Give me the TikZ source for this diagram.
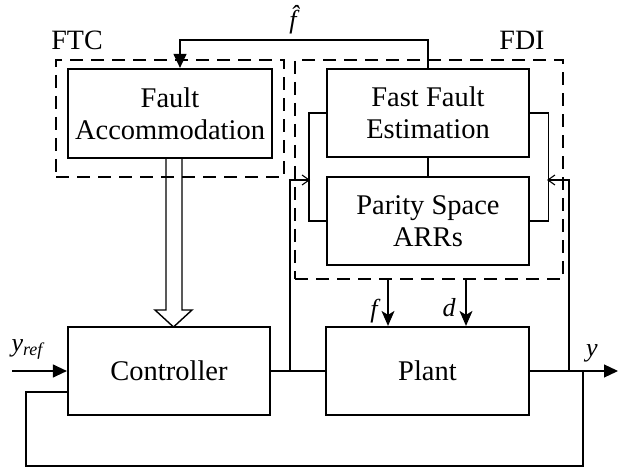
\documentclass[tikz,border=0pt]{standalone}
\usepackage{fontspec}
\setmainfont{Liberation Serif}
\usetikzlibrary{arrows.meta,calc}

\tikzset{
  blk/.style={draw, line width=2.2pt, inner sep=0pt, align=center,
              font=\fontsize{28.5}{32}\selectfont},
  grp/.style={draw, line width=2.2pt, dash pattern=on 13pt off 8pt, inner sep=0pt},
  wire/.style={line width=1.2pt},
  lbl/.style={font=\fontsize{28}{32}\selectfont, inner sep=0pt},
  sig/.style={font=\fontsize{26}{28}\selectfont\itshape, inner sep=0pt},
  tri/.style={-{Triangle[length=14pt,width=13pt]}},
  stl/.style={-{Stealth[length=15pt,width=13pt,inset=4pt]}},
  barb/.style={-{Straight Barb[length=7pt,width=10pt,line width=1.1pt]}}
}

\begin{document}
\begin{tikzpicture}[x=1pt,y=-1pt]
  \useasboundingbox (0,0) rectangle (618,470);

  % group frames
  \node[grp, minimum width=228pt, minimum height=117pt] (ftc) at (170,118.5) {};
  \node[grp, minimum width=268pt, minimum height=219pt] (fdi) at (429,169.5) {};
  \node[lbl] (ftclbl) at (77,40) {FTC};
  \node[lbl] (fdilbl) at (522,40) {FDI};

  % blocks
  \node[blk, minimum width=204pt, minimum height=89pt] (fa) at (170,113.5) {Fault\\Accommodation};
  \node[blk, minimum width=202pt, minimum height=88pt] (ffe) at (428,113) {Fast Fault\\Estimation};
  \node[blk, minimum width=202pt, minimum height=88pt] (psa) at (428,221) {Parity Space\\ARRs};
  \node[blk, minimum width=202pt, minimum height=88pt] (ctrl) at (169,371) {Controller};
  \node[blk, minimum width=203pt, minimum height=88pt] (plant) at (427.5,371) {Plant};

  % estimated fault back to the accommodation block
  \coordinate (fhat) at (180,40);
  \draw[wire, tri] (ffe.north) |- (fhat) -- (fhat |- fa.north);
  \node[sig] (fhatlbl) at (293,20) {\^{f}};

  % FDI internals
  \draw[wire] (ffe.south) -- (psa.north);
  \draw[wire] (ffe.west) -- ++(-17,0) |- (psa.west);
  \draw[wire] (ffe.east) -- ++(18,0) |- (psa.east);

  % main loop
  \coordinate (yin) at (12,371);
  \draw[wire, tri] (yin) -- (ctrl.west |- yin);
  \node[sig] (yref) at (27,349) {y\raisebox{-4pt}{\fontsize{18}{20}\selectfont ref}};
  \draw[wire] (ctrl.east) -- (plant.west);
  \coordinate (yout) at (618,371);
  \draw[wire, tri] (plant.east) -- (yout);
  \node[sig] (ylbl) at (592,353) {y};

  % measurements into the FDI
  \coordinate (ju) at (290,371);
  \coordinate (jy) at (569,371);
  \draw[wire, barb] (ju) -- (290,180) -- (310,180);
  \draw[wire, barb] (jy) -- (569,180) -- (547,180);

  % output feedback
  \coordinate (fb) at (583,371);
  \draw[wire] (fb) -- (583,466) -- (26,466) -- (26,392) -- (ctrl.west |- 0,392);

  % fault and disturbance
  \coordinate (fsrc) at (388,279);
  \coordinate (dsrc) at (466,279);
  \draw[wire, stl] (fsrc) -- (fsrc |- plant.north);
  \draw[wire, stl] (dsrc) -- (dsrc |- plant.north);
  \node[sig] (flbl) at (374,311) {f};
  \node[sig] (dlbl) at (449,308) {d};

  % hollow command arrow from accommodation to controller
  \draw[wire, line width=1.4pt, line join=miter]
    (166,158) -- (166,310) -- (155,310) -- (173.5,327) -- (192,310) -- (182,310) -- (182,158);
\end{tikzpicture}
\end{document}
